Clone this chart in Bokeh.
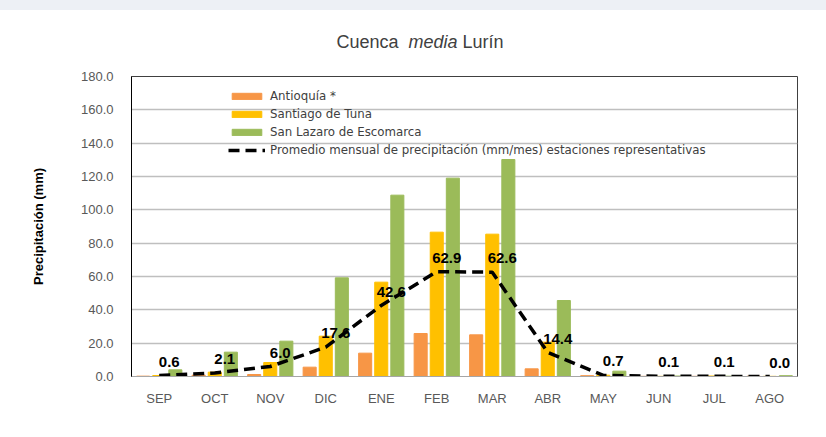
from bokeh.plotting import figure
from bokeh.models import (ColumnDataSource, FactorRange, Range1d, NumeralTickFormatter,
                          Legend, LegendItem, SingleIntervalTicker, Div)
from bokeh.layouts import column
from bokeh.transform import dodge
from bokeh.core.properties import value
from bokeh.embed import file_html
from bokeh.resources import INLINE

months = ["SEP", "OCT", "NOV", "DIC", "ENE", "FEB", "MAR", "ABR", "MAY", "JUN", "JUL", "AGO"]
antioquia = [0.2, 0.8, 1.2, 5.6, 14.0, 25.8, 25.0, 4.6, 0.5, 0.1, 0.1, 0.2]
santiago = [0.6, 2.6, 8.4, 24.2, 56.6, 86.6, 85.4, 20.6, 0.8, 0.1, 0.3, 0.1]
san_lazaro = [4.0, 14.6, 21.2, 59.2, 108.8, 119.0, 130.2, 45.6, 3.2, 0.3, 0.2, 0.5]
promedio = [0.6, 2.1, 6.0, 17.6, 42.6, 62.9, 62.6, 14.4, 0.7, 0.1, 0.1, 0.0]
promedio_labels = ["%.1f" % v for v in promedio]

source = ColumnDataSource(dict(months=months, antioquia=antioquia, santiago=santiago,
                               san_lazaro=san_lazaro, promedio=promedio,
                               plabel=promedio_labels))

title = Div(
    text=('<div style="box-sizing:border-box;width:826px;height:60px;'
          'border-top:10px solid #edf0f5;background:white;'
          'padding-top:21px;padding-left:14px;text-align:center;'
          'font-family:\'Liberation Sans\';font-size:18px;line-height:22px;color:#404040;">'
          'Cuenca&nbsp; <i>media</i> Lurín</div>'),
    width=826, height=60, margin=(0, 0, 0, 0))

p = figure(x_range=FactorRange(*months), y_range=Range1d(0, 180),
           width=826, height=377, output_backend="svg", toolbar_location=None,
           min_border_left=131, min_border_top=16, min_border_bottom=61, min_border_right=29,
           margin=(0, 0, 0, 0))

p.background_fill_color = "white"
p.border_fill_color = "white"
p.outline_line_color = "#404040"
p.outline_line_width = 1

w = 0.235
r1 = p.vbar(x=dodge("months", -0.29, range=p.x_range), top="antioquia", width=w,
            source=source, color="#F79646")
r2 = p.vbar(x=dodge("months", 0.0, range=p.x_range), top="santiago", width=w,
            source=source, color="#FFC000")
r3 = p.vbar(x=dodge("months", 0.29, range=p.x_range), top="san_lazaro", width=w,
            source=source, color="#9BBB59")
r4 = p.line(x="months", y="promedio", source=source, line_color="black",
            line_width=3.5, line_dash="11 6")
p.text(x="months", y="promedio", text="plabel", source=source,
       text_font=value("Liberation Sans"), text_font_size="15px", text_font_style="bold",
       text_color="black", text_align="center", text_baseline="middle",
       x_offset=10, y_offset=-14)

legend = Legend(items=[
    LegendItem(label="Antioquía *", renderers=[r1]),
    LegendItem(label="Santiago de Tuna", renderers=[r2]),
    LegendItem(label="San Lazaro de Escomarca", renderers=[r3]),
    LegendItem(label="Promedio mensual de precipitación (mm/mes) estaciones representativas",
               renderers=[r4]),
], location=(97, 219))
legend.padding = 0
legend.margin = 0
legend.spacing = 4
legend.glyph_width = 37
legend.glyph_height = 8
legend.label_height = 14
legend.label_standoff = 5
legend.label_text_font = "DejaVu Sans"
legend.label_text_font_size = "11.8px"
legend.label_text_color = "#404040"
legend.background_fill_alpha = 0
legend.border_line_alpha = 0
p.add_layout(legend, "center")

# Axes
p.yaxis.ticker = SingleIntervalTicker(interval=20)
p.yaxis.formatter = NumeralTickFormatter(format="0.0")
p.yaxis.axis_label = "Precipitación (mm)"
p.yaxis.axis_label_text_font = "Liberation Sans"
p.yaxis.axis_label_text_font_size = "13px"
p.yaxis.axis_label_text_font_style = "bold"
p.yaxis.axis_label_text_color = "black"
p.yaxis.axis_label_standoff = 32
p.yaxis.major_label_text_font = "Liberation Sans"
p.yaxis.major_label_text_font_size = "13px"
p.yaxis.major_label_text_color = "#595959"
p.yaxis.major_label_standoff = 12
p.yaxis.major_tick_line_color = None
p.yaxis.minor_tick_line_color = None
p.yaxis.axis_line_color = "black"

p.xaxis.major_label_text_font = "Liberation Sans"
p.xaxis.major_label_text_font_size = "13px"
p.xaxis.major_label_text_color = "#595959"
p.xaxis.major_label_standoff = 8
p.xaxis.major_tick_line_color = None
p.xaxis.axis_line_color = "#a6a6a6"

p.xgrid.grid_line_color = None
p.ygrid.grid_line_color = "#bfbfbf"
p.ygrid.grid_line_width = 1.5

layout = column(title, p, spacing=0, margin=(0, 0, 0, 0))
open("out.html", "w").write(file_html(layout, INLINE))
